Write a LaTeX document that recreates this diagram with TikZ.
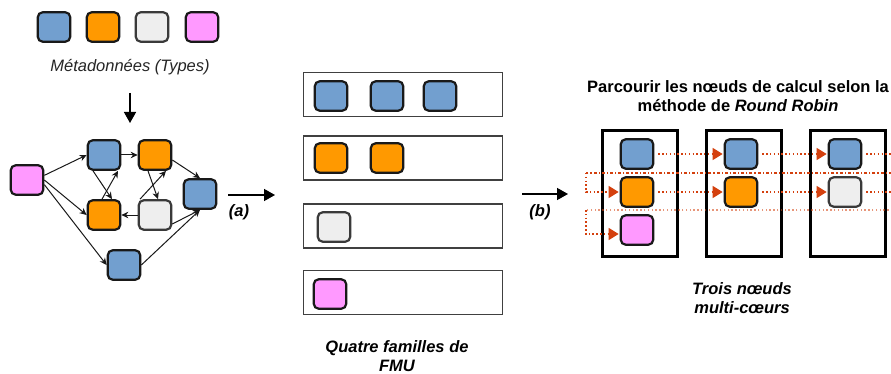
\documentclass[tikz,border=0pt]{standalone}
\usepackage{fontspec}
\setmainfont{Liberation Sans}
\usetikzlibrary{arrows.meta,calc}
\definecolor{cblue}{HTML}{729FCF}
\definecolor{corange}{HTML}{FF9900}
\definecolor{cgray}{HTML}{EEEEEE}
\definecolor{cpink}{HTML}{FF99FF}
\definecolor{cgb}{HTML}{3A3A3A}
\definecolor{cred}{HTML}{D4400E}
\begin{document}
\begin{tikzpicture}[x=1pt,y=-1pt,
  sq/.style={draw=black!90,line width=2.2pt,rounded corners=5pt,minimum width=32.5pt,minimum height=29.5pt,inner sep=0pt},
  sqb/.style={sq,fill=cblue},
  sqo/.style={sq,fill=corange},
  sqg/.style={sq,fill=cgray,draw=cgb},
  sqp/.style={sq,fill=cpink},
  edge/.style={draw=black!90,line width=1pt,-{Stealth[length=7pt,width=6.5pt]}},
  bigarrow/.style={draw=black,line width=1.5pt,-{Triangle[length=11pt,width=12pt]}},
  family/.style={draw=black!75,line width=1.2pt,minimum width=198.8pt,minimum height=44pt,inner sep=0pt},
  core/.style={draw=black,line width=3pt,minimum width=75pt,minimum height=126pt,inner sep=0pt},
  reddot/.style={draw=cred,line width=1.3pt,dash pattern=on 1.5pt off 2.3pt},
  redarrow/.style={reddot,-{Triangle[length=10pt,width=12pt,fill=cred]}},
  lab/.style={font=\bfseries\itshape\fontsize{16.5}{19}\selectfont,align=center,inner sep=0pt}
]
\clip (0,0) rectangle (891,374);
\fill[white] (0,0) rectangle (891,374);

% legend
\node[sqb] (L1) at (54,27) {};
\node[sqo] (L2) at (103,27) {};
\node[sqg] (L3) at (152,27) {};
\node[sqp] (L4) at (202,27) {};
\node[font=\itshape\fontsize{16.5}{19}\selectfont,text=black!85,inner sep=0pt] (meta) at (130,67) {Métadonnées (Types)};
\coordinate (dA) at (130,93);
\coordinate (dB) at (130,123);
\draw[bigarrow] (dA) -- (dB);

% graph
\node[sqp] (P) at (27,180) {};
\node[sqb] (B1) at (104,155) {};
\node[sqo] (O1) at (155,155) {};
\node[sqo] (O2) at (104,215) {};
\node[sqg] (G) at (155,215) {};
\node[sqb] (BR) at (200,194) {};
\node[sqb] (BB) at (124,265) {};

\draw[edge] (P.15) -- (B1.west);
\draw[edge] (P.east) -- (O2.west);
\draw[edge] (P.-15) -- (BB.west);
\draw[edge] (B1.east) -- (O1.west);
\draw[edge] ($(B1.south)+(-11,0)$) -- ($(O2.north)+(8,0)$);
\draw[edge] ($(O2.north)+(-2,0)$) -- ($(B1.south)+(14,0)$);
\draw[edge] ($(O1.south)+(-7,0)$) -- ($(G.north)+(3,0)$);
\draw[edge] ($(G.north)+(-15,0)$) -- ($(O1.south)+(11,0)$);
\draw[edge] (G.west) -- (O2.east);
\draw[edge] ($(O1.east)+(0,5)$) -- (BR.north);
\draw[edge] ($(G.east)+(0,9)$) -- (BR.south);
\draw[edge] (BB.east) -- (BR.south);

% (a)
\coordinate (aA) at (228,195);
\coordinate (aB) at (275,195);
\draw[bigarrow] (aA) -- (aB);
\node[lab] (la) at (239,212) {(a)};

% families
\node[family] (F1) at (403,94.5) {};
\node[family] (F2) at (403,158) {};
\node[family] (F3) at (403,226) {};
\node[family] (F4) at (403,292.5) {};
\node[sqb] (M11) at (331,96) {};
\node[sqb] (M12) at (387,96) {};
\node[sqb] (M13) at (440,96) {};
\node[sqo] (M21) at (331,158) {};
\node[sqo] (M22) at (387,158) {};
\node[sqg] (M31) at (334,227) {};
\node[sqp] (M41) at (330,294) {};
\node[lab] (quatre) at (397,356) {Quatre familles de\\FMU};

% (b)
\coordinate (bA) at (522,194);
\coordinate (bB) at (568,194);
\draw[bigarrow] (bA) -- (bB);
\node[lab] (lb) at (540,212) {(b)};

% title
\node[font=\bfseries\fontsize{16.5}{18.5}\selectfont,align=center,inner sep=0pt] (title) at (738,96)
  {Parcourir les nœuds de calcul selon la\\méthode de \textit{Round Robin}};

% cores
\node[core] (C1) at (640,193.5) {};
\node[core] (C2) at (744,193.5) {};
\node[core] (C3) at (848,193.5) {};
\node[sqb] (R11) at (637,154) {};
\node[sqo] (R12) at (637,192) {};
\node[sqp] (R13) at (637,230) {};
\node[sqb] (R21) at (741,154) {};
\node[sqo] (R22) at (741,192) {};
\node[sqb] (R31) at (845,154) {};
\node[sqg] (R32) at (845,192) {};

\coordinate (e1) at (900,154);
\coordinate (e2) at (900,192);
\coordinate (w1) at (900,173);
\coordinate (w2) at (900,210);
\coordinate (k1) at (586,173);
\coordinate (k2) at (586,210);

\draw[redarrow] ($(R11.east)+(4,0)$) -- ($(R21.west)+(-1,0)$);
\draw[redarrow] ($(R21.east)+(4,0)$) -- ($(R31.west)+(-1,0)$);
\draw[reddot] ($(R31.east)+(4,0)$) -- (e1);
\draw[redarrow] ($(R12.east)+(4,0)$) -- ($(R22.west)+(-1,0)$);
\draw[redarrow] ($(R22.east)+(4,0)$) -- ($(R32.west)+(-1,0)$);
\draw[reddot] ($(R32.east)+(4,0)$) -- (e2);
\draw[reddot,dash pattern=on 3pt off 2pt on 1.2pt off 2pt] (w1) -- (k1);
\draw[redarrow] (k1) |- ($(R12.west)+(-1,0)$);
\draw[reddot,draw opacity=0.55] (w2) -- (k2);
\draw[redarrow] (k2) |- ($(R13.west)+(-1,4)$);

\node[lab] (trois) at (742,298) {Trois nœuds\\multi-cœurs};
\end{tikzpicture}
\end{document}
